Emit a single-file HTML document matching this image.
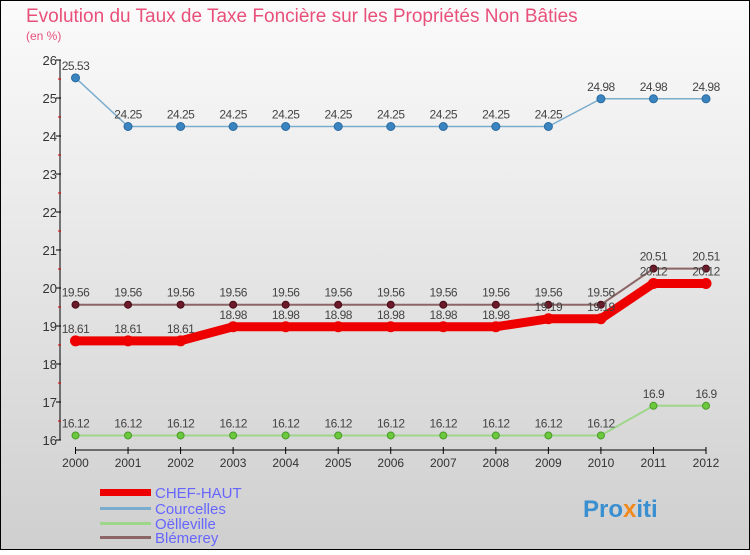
<!DOCTYPE html>
<html><head><meta charset="utf-8"><style>
body{margin:0;width:750px;height:550px;overflow:hidden;font-family:"Liberation Sans",sans-serif}
</style></head><body>
<svg width="750" height="550" xmlns="http://www.w3.org/2000/svg" id="svg">
<defs><linearGradient id="bg" x1="0" y1="0" x2="0" y2="1"><stop offset="0" stop-color="#fbfbfb"/><stop offset="1" stop-color="#cfcfcf"/></linearGradient></defs>
<rect x="0.5" y="0.5" width="749" height="549" fill="url(#bg)" stroke="#000"/>
<text x="26" y="22" font-size="19" fill="#e8507a">Evolution du Taux de Taxe Foncière sur les Propriétés Non Bâties</text>
<text x="26" y="40" font-size="12" fill="#e8507a">(en %)</text>
<g id="axes"></g><g id="series"></g>
<g>
<rect x="100" y="489" width="51" height="7" fill="#e00"/>
<text x="155" y="498" font-size="15" fill="#6666ff">CHEF-HAUT</text>
<rect x="100" y="507" width="51" height="3" fill="#7aaccd"/>
<text x="155" y="514" font-size="15" fill="#6666ff">Courcelles</text>
<rect x="100" y="522" width="51" height="3" fill="#9ed68a"/>
<text x="155" y="529" font-size="15" fill="#6666ff">Oëlleville</text>
<rect x="100" y="536" width="51" height="3" fill="#8c6666"/>
<text x="155" y="543" font-size="15" fill="#6666ff">Blémerey</text>
</g>
<text x="583" y="517" font-size="24" font-weight="bold" fill="#3a8fd0">Pro<tspan fill="#f08a1c">x</tspan>iti</text>
</svg>
<script>
const years=[2000,2001,2002,2003,2004,2005,2006,2007,2008,2009,2010,2011,2012];
const yTicks=[16,17,18,19,20,21,22,23,24,25,26];
const chefHaut=[18.61,18.61,18.61,18.98,18.98,18.98,18.98,18.98,18.98,19.19,19.19,20.12,20.12];
const courcelles=[25.53,24.25,24.25,24.25,24.25,24.25,24.25,24.25,24.25,24.25,24.98,24.98,24.98];
const oelleville=[16.12,16.12,16.12,16.12,16.12,16.12,16.12,16.12,16.12,16.12,16.12,16.9,16.9];
const blemerey=[19.56,19.56,19.56,19.56,19.56,19.56,19.56,19.56,19.56,19.56,19.56,20.51,20.51];
const NS="http://www.w3.org/2000/svg";
const x=i=>75.5+i*(706-75.5)/(years.length-1);
const y=v=>440-(v-16)*38;
function mk(t,a,p){const e=document.createElementNS(NS,t);for(const k in a)e.setAttribute(k,a[k]);p.appendChild(e);return e;}
const ax=document.getElementById('axes');
const yl=mk('line',{x1:60,y1:y(26),x2:60,y2:y(16),stroke:'#000'},ax);


const xl=mk('line',{x1:75.5,y1:450,x2:706,y2:450,stroke:'#000'},ax);


yTicks.forEach(v=>{
 mk('line',{x1:56,y1:y(v),x2:61,y2:y(v),stroke:'#000'},ax);
 if(v<26)mk('line',{x1:58,y1:y(v+0.5),x2:61,y2:y(v+0.5),stroke:'#d00'},ax);
 const t=mk('text',{x:57,y:y(v)+5,'font-size':13,'text-anchor':'end',fill:'#333'},ax);
 t.textContent=v;
 
 
});
years.forEach((yr,i)=>{
 mk('line',{x1:x(i),y1:447,x2:x(i),y2:454,stroke:'#000'},ax);
 const t=mk('text',{x:x(i),y:467,'font-size':12,'text-anchor':'middle',fill:'#333'},ax);
 t.textContent=yr;
 
 
});
const sg=document.getElementById('series');
function series(vals,name,color,w,dot,dotStroke,r){
 const g=mk('g',{},sg);
 
 
 const pl=mk('polyline',{points:vals.map((v,i)=>x(i)+','+y(v)).join(' '),fill:'none',stroke:color,'stroke-width':w,'stroke-linejoin':'round'},g);
 
 
 vals.forEach((v,i)=>{
  const c=mk('circle',{cx:x(i),cy:y(v),r:r,fill:dot,stroke:dotStroke,'stroke-width':1},g);
  
  
  const t=mk('text',{x:x(i),y:y(v)-8,'font-size':12,'text-anchor':'middle',fill:'#444','letter-spacing':'-0.5'},g);
  t.textContent=v;
  
  
 });
}
series(courcelles,'courcelles','#7aaccd',1.5,'#3a84c0','#2a6aa0',4);
series(oelleville,'oelleville','#9ed68a',2,'#6cc83c','#4a9a2a',3.5);
series(blemerey,'blemerey','#8c6666',2,'#6a1a28','#4a0a18',3.5);
series(chefHaut,'chef-haut','#e00',9,'#e00','#e00',5);
</script>
</body></html>
